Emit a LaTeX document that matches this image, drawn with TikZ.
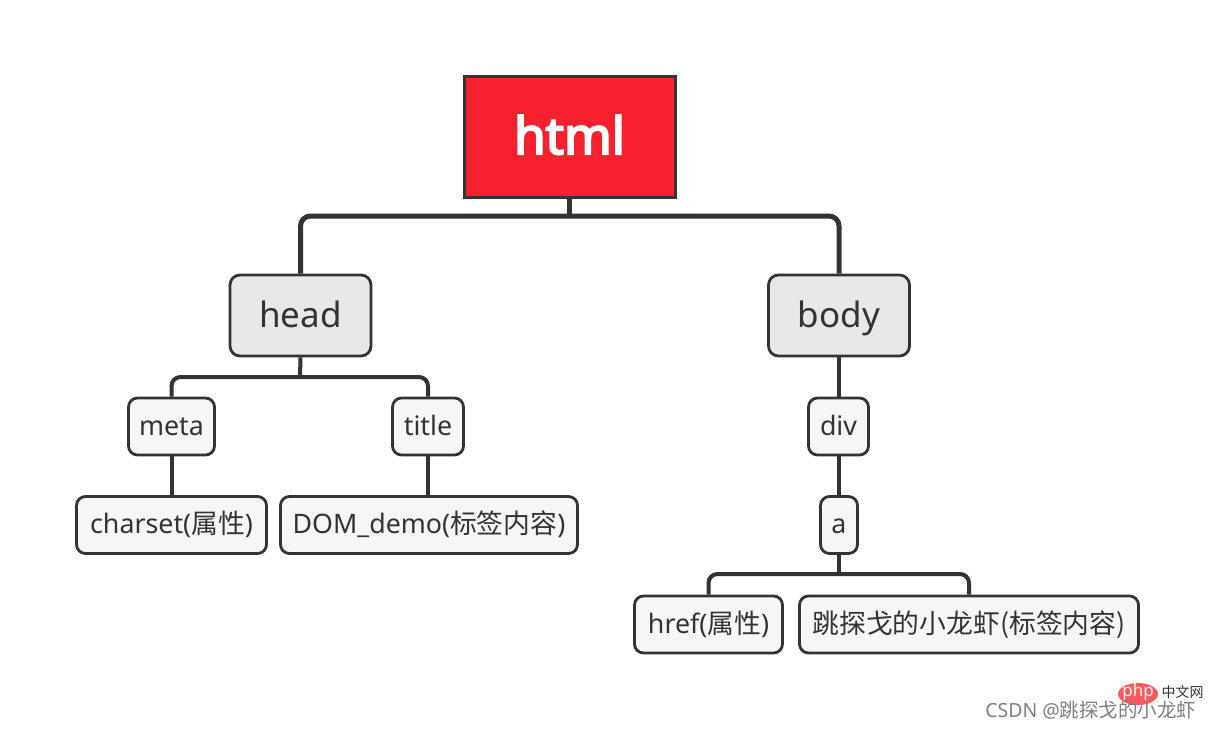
\documentclass[tikz,border=0pt]{standalone}
\usepackage{fontspec}
\setmainfont{Noto Sans}
\newfontfamily\cjk{Noto Sans CJK SC}
\newfontfamily\htmlfont{Noto Sans}[FakeBold=4]
\definecolor{ink}{HTML}{333333}
\definecolor{htmlred}{HTML}{F7202E}
\definecolor{lvone}{HTML}{E8E8E8}
\definecolor{lvtwo}{HTML}{F6F6F6}
\begin{document}
\begin{tikzpicture}[x=1pt,y=-1pt,
  rootbox/.style={draw=ink,line width=3pt,fill=htmlred,text=white,font=\htmlfont\fontsize{51}{56}\selectfont,inner sep=0pt,minimum width=211pt,minimum height=121pt,text height=40pt,text depth=5pt},
  midbox/.style={draw=ink,line width=2.8pt,fill=lvone,text=ink,rounded corners=10pt,font=\fontsize{35}{40}\selectfont,inner sep=0pt,minimum width=141pt,minimum height=81pt,text height=27pt,text depth=4pt},
  leafbox/.style={draw=ink,line width=2.8pt,fill=lvtwo,text=ink,rounded corners=9pt,font=\fontsize{26.8}{31}\selectfont,inner sep=0pt,minimum height=57pt,text height=20pt,text depth=3pt},
  conn/.style={draw=ink,line width=5pt,rounded corners=10pt},
  thin/.style={draw=ink,line width=4pt,rounded corners=9pt}
]
\useasboundingbox (0,0) rectangle (1215,729);
\fill[white] (0,0) rectangle (1215,729);

\coordinate (bus1) at (569.5,216);
\coordinate (bus2) at (300,377);
\coordinate (bus3) at (839,574);

\node[rootbox] (html) at (569.5,136.5) {html};
\node[midbox] (head) at (300.5,315.5) {head};
\node[midbox] (body) at (839,315.5) {body};

\node[leafbox,minimum width=86pt] (meta) at (171.5,426.5) {meta};
\node[leafbox,minimum width=71pt] (title) at (428,426.5) {title};
\node[leafbox,minimum width=60pt] (div) at (838.5,426.5) {div};
\node[leafbox,minimum width=37pt] (a) at (839,525) {a};
\node[leafbox,minimum width=190pt] (charset) at (171.5,525) {charset({\cjk 属性})};
\node[leafbox,minimum width=297pt] (dom) at (429,525) {DOM\_demo({\cjk 标签内容})};
\node[leafbox,minimum width=148pt] (href) at (708.5,624.5) {href({\cjk 属性})};
\node[leafbox,minimum width=339pt] (xia) at (969,624.5) {\cjk 跳探戈的小龙虾(标签内容)};

\draw[conn] (html.south) -- (bus1);
\draw[conn] (head.north) |- (bus1) -| (body.north);
\draw[thin] (head.south) -- (bus2);
\draw[thin] (meta.north) |- (bus2) -| (title.north);
\draw[thin] (meta.south) -- (charset.north);
\draw[thin] (title.south) -- (title.south |- dom.north);
\draw[thin] (body.south) -- (body.south |- div.north);
\draw[thin] (div.south) -- (div.south |- a.north);
\draw[thin] (a.south) -- (a.south |- bus3);
\draw[thin] (href.north) |- (bus3) -| (xia.north);

% watermark
\fill[red!65!white] (1138,694) ellipse [x radius=20pt, y radius=11pt];
\node[text=white,font=\fontsize{17}{18}\selectfont] (phptext) at (1138,692) {php};
\node[text=ink,font=\cjk\fontsize{14}{16}\selectfont,anchor=west] (cnw) at (1158,692) {中文网};
\node[text=black!50,font=\fontsize{19.5}{22}\selectfont,anchor=east] (csdn) at (1200,710) {CSDN @{\cjk 跳探戈的小龙虾}};
\end{tikzpicture}
\end{document}
